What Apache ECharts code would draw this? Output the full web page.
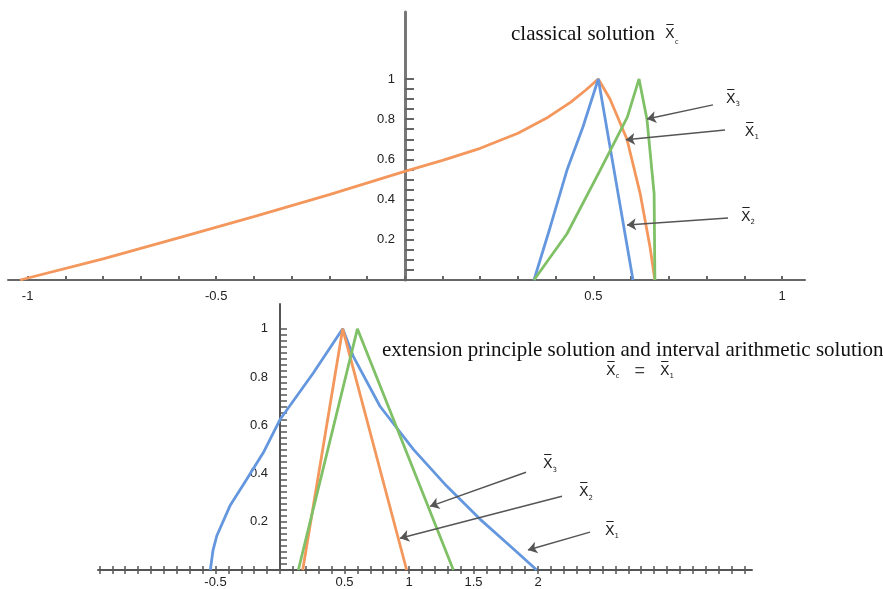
<!DOCTYPE html>
<html lang="en">
<head>
    <meta charset="utf-8">
    <title>classical vs extension principle solution</title>
    <script src="https://cdn.jsdelivr.net/npm/echarts@6/dist/echarts.min.js"></script>
    <style type="text/css">
        html, body { margin: 0; padding: 0; background: #fff; }
        #main { width: 883px; height: 589px; }
    </style>
</head>
<body>
    <div id="main"></div>
    <script type="text/javascript">
        // ---- top chart: classical solution ----
        var topOrange = [[-1.02, 0], [-0.8, 0.105], [-0.6, 0.21], [-0.4, 0.315], [-0.2, 0.425], [0.0, 0.54],
            [0.1, 0.595], [0.2, 0.655], [0.3, 0.73], [0.38, 0.81], [0.44, 0.885], [0.48, 0.945],
            [0.513, 1.0], [0.544, 0.9], [0.589, 0.70], [0.624, 0.43], [0.650, 0.165], [0.663, 0]];
        var topBlue = [[0.3425, 0], [0.385, 0.26], [0.43, 0.547], [0.472, 0.76], [0.513, 1.0], [0.605, 0]];
        var topGreen = [[0.3425, 0], [0.43, 0.23], [0.518, 0.547], [0.59, 0.81], [0.621, 1.0],
            [0.642, 0.80], [0.661, 0.43], [0.663, 0]];
        var topXLabels = [-1, -0.5, 0.5, 1];
        var topYLabels = [0.2, 0.4, 0.6, 0.8, 1];
        // arrows: [fromX, fromY, toX, toY]
        var topArrows = [[0.817, 0.871, 0.642, 0.801], [0.849, 0.746, 0.586, 0.697], [0.857, 0.308, 0.589, 0.274]];
        var topNotes = [['3', 0.870, 0.90], ['1', 0.920, 0.736], ['2', 0.910, 0.313]];

        // ---- bottom chart: extension principle / interval arithmetic ----
        var botBlue = [[-0.54, 0], [-0.52, 0.08], [-0.49, 0.142], [-0.388, 0.266], [-0.258, 0.376], [-0.129, 0.487],
            [0, 0.624], [0.258, 0.817], [0.486, 1.0], [0.568, 0.886], [0.775, 0.679], [1.034, 0.5],
            [1.292, 0.348], [1.55, 0.211], [1.81, 0.087], [1.99, 0]];
        var botOrange = [[0.176, 0], [0.486, 1.0], [0.982, 0]];
        var botGreen = [[0.142, 0], [0.60, 1.0], [1.344, 0]];
        var botXLabels = [-0.5, 0.5, 1, 1.5, 2];
        var botYLabels = [0.2, 0.4, 0.6, 0.8, 1];
        var botArrows = [[1.907, 0.405, 1.163, 0.264], [2.186, 0.306, 0.930, 0.132], [2.403, 0.157, 1.922, 0.083]];
        var botNotes = [['3', 2.093, 0.438], ['2', 2.372, 0.322], ['1', 2.574, 0.161]];

        function steps(a, b, d) {
            var out = [];
            for (var v = a; v <= b + 1e-9; v += d) out.push(Math.round(v * 1000) / 1000);
            return out;
        }
        var topXTicks = steps(-1, 1, 0.1);
        var topYTicks = steps(0.05, 1, 0.05);
        var botXTicks = steps(-1.4, 3.6, 0.1);
        var botYTicks = steps(0.025, 1, 0.025);

        var BLUE = '#6597de', ORANGE = '#f3975c', GREEN = '#80c067';
        var XBAR = 'X\u0305';

        var noteRich = {
            x: { fontSize: 14, fontFamily: 'DejaVu Sans', fontWeight: 'normal', color: '#222', lineHeight: 18, verticalAlign: 'middle' },
            s: { fontSize: 7, fontFamily: 'DejaVu Sans', fontWeight: 'normal', color: '#222', verticalAlign: 'bottom', lineHeight: 18 }
        };

        function arrowLines(list) {
            return {
                silent: true,
                animation: false,
                symbol: ['none', 'arrow'],
                symbolSize: 9,
                label: { show: false },
                itemStyle: { color: '#222' },
                lineStyle: { color: '#555', width: 1.5, type: 'solid' },
                emphasis: { disabled: true },
                data: list.map(function (a) {
                    return [{ coord: [a[0], a[1]] }, { coord: [a[2], a[3]] }];
                })
            };
        }
        function notePoints(list) {
            return {
                silent: true,
                animation: false,
                symbol: 'circle',
                symbolSize: 1,
                itemStyle: { color: 'rgba(0,0,0,0)' },
                label: {
                    show: true, position: 'inside',
                    formatter: function (p) { return p.name; },
                    rich: noteRich
                },
                data: list.map(function (n) {
                    return { name: '{x|' + XBAR + '}{s|' + n[0] + '}', coord: [n[1], n[2]] };
                })
            };
        }

        function lineSeries(data, color, xi, yi, extra) {
            var s = {
                type: 'line', data: data, xAxisIndex: xi, yAxisIndex: yi,
                showSymbol: false, symbol: 'none', animation: false, silent: true,
                lineStyle: { color: color, width: 2.8 },
                z: 3
            };
            if (extra) { for (var k in extra) s[k] = extra[k]; }
            return s;
        }

        var axisText = { color: '#222', fontSize: 13, fontFamily: 'Liberation Sans' };

        var chart = echarts.init(document.getElementById('main'), null, { renderer: 'canvas' });
        var option = {
            backgroundColor: '#fff',
            title: [
                {
                    text: '{t|classical solution}  {x|' + XBAR + '}{s|c}',
                    left: 511, top: 22, padding: 0,
                    textStyle: {
                        fontWeight: 'normal',
                        rich: {
                            t: { fontFamily: 'Liberation Serif', fontSize: 21, fontWeight: 'normal', color: '#111', lineHeight: 24 },
                            x: { fontFamily: 'DejaVu Sans', fontSize: 14, fontWeight: 'normal', color: '#222', lineHeight: 24 },
                            s: { fontFamily: 'DejaVu Sans', fontSize: 7, fontWeight: 'normal', color: '#222', verticalAlign: 'bottom', lineHeight: 24 }
                        }
                    }
                },
                {
                    text: 'extension principle solution and interval arithmetic solution',
                    left: 382, top: 340, padding: 0,
                    textStyle: { fontFamily: 'Liberation Serif', fontSize: 21, fontWeight: 'normal', color: '#111' }
                },
                {
                    text: '{x|' + XBAR + '}{s|c}   =   {x|' + XBAR + '}{s|1}',
                    left: 606, top: 362, padding: 0,
                    textStyle: { fontWeight: 'normal', rich: noteRich }
                }
            ],
            grid: [
                { left: 8, top: 12, width: 797, height: 268 },
                { left: 98, top: 304, width: 654, height: 267 }
            ],
            xAxis: [
                {
                    type: 'value', gridIndex: 0, min: -1.052, max: 1.061,
                    splitLine: { show: false },
                    axisLine: { onZero: true, lineStyle: { color: '#666', width: 2 } },
                    axisTick: { show: true, inside: true, length: 4, customValues: topXTicks, lineStyle: { color: '#666', width: 2 } },
                    axisLabel: Object.assign({ customValues: topXLabels, margin: 10 }, axisText)
                },
                {
                    type: 'value', gridIndex: 1, min: -1.411, max: 3.659, position: 'bottom',
                    splitLine: { show: false },
                    axisLine: { onZero: true, lineStyle: { color: '#555', width: 2 } },
                    axisTick: { show: true, inside: true, length: 4, customValues: botXTicks, lineStyle: { color: '#555', width: 1.5 } },
                    axisLabel: Object.assign({ customValues: botXLabels, margin: 6 }, axisText)
                },
                {
                    type: 'value', gridIndex: 1, min: -1.411, max: 3.659, position: 'bottom',
                    splitLine: { show: false },
                    axisLine: { show: false, onZero: true },
                    axisTick: { show: true, inside: false, length: 4, customValues: botXTicks, lineStyle: { color: '#555', width: 1.5 } },
                    axisLabel: { show: false }
                }
            ],
            yAxis: [
                {
                    // y axis sits on x = 0 of the top grid
                    type: 'value', gridIndex: 0, min: 0, max: 1.333, position: 'left', offset: -397,
                    splitLine: { show: false },
                    axisLine: { onZero: false, lineStyle: { color: '#777', width: 3 } },
                    axisTick: { show: true, inside: true, length: 9, customValues: topYTicks, lineStyle: { color: '#666', width: 2 } },
                    axisLabel: Object.assign({ customValues: topYLabels, margin: 10 }, axisText)
                },
                {
                    // y axis sits on x = 0 of the bottom grid
                    type: 'value', gridIndex: 1, min: 0, max: 1.103, position: 'left', offset: -182,
                    splitLine: { show: false },
                    axisLine: { onZero: false, lineStyle: { color: '#555', width: 2 } },
                    axisTick: { show: true, inside: true, length: 7, customValues: botYTicks, lineStyle: { color: '#555', width: 1.5 } },
                    axisLabel: Object.assign({ customValues: botYLabels, margin: 12 }, axisText)
                }
            ],
            series: [
                lineSeries(topOrange, ORANGE, 0, 0),
                lineSeries(topBlue, BLUE, 0, 0),
                lineSeries(topGreen, GREEN, 0, 0, { markLine: arrowLines(topArrows), markPoint: notePoints(topNotes) }),
                lineSeries(botBlue, BLUE, 1, 1),
                lineSeries(botOrange, ORANGE, 1, 1),
                lineSeries(botGreen, GREEN, 1, 1, { markLine: arrowLines(botArrows), markPoint: notePoints(botNotes) })
            ]
        };
        chart.setOption(option);
    </script>
</body>
</html>
